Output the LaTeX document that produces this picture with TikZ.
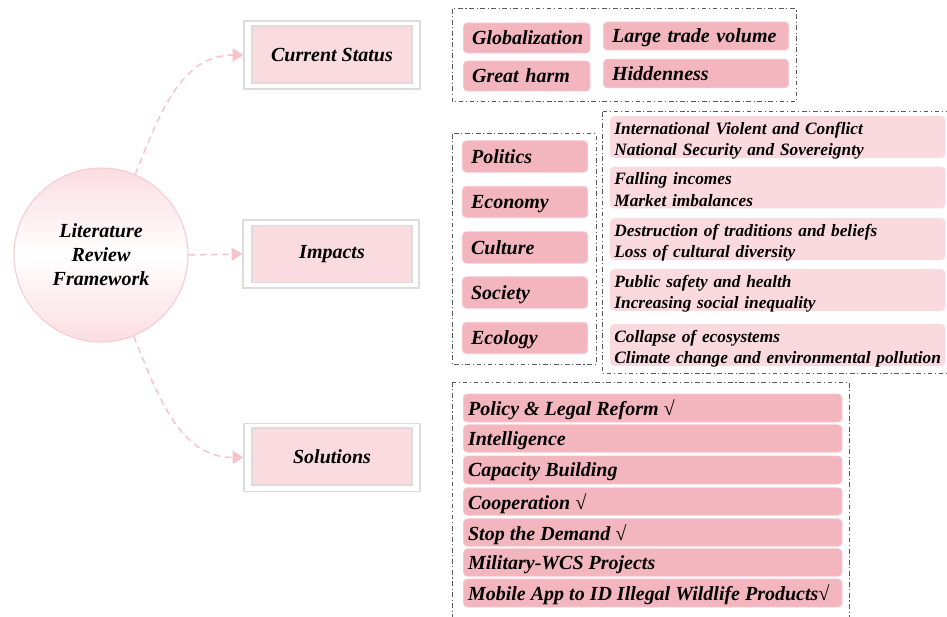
\documentclass[tikz,border=0pt]{standalone}
\usepackage{fontspec}
\setmainfont{Liberation Serif}
\usetikzlibrary{arrows.meta}
\definecolor{itemdark}{HTML}{F3B5BE}
\definecolor{itemdarkb}{HTML}{F7C7CE}
\definecolor{itemlight}{HTML}{FADADF}
\definecolor{innerpink}{HTML}{F9DBE0}
\definecolor{boxgray}{HTML}{DCDCDC}
\definecolor{arrowpink}{HTML}{F7C3CB}
\definecolor{circborder}{HTML}{F6CBD1}
\definecolor{circtop}{HTML}{FBDDE2}
\definecolor{dashgray}{HTML}{5A5A5A}
\tikzset{
  bigfont/.style={font=\bfseries\itshape\fontsize{15}{18}\selectfont},
  smallfont/.style={font=\bfseries\itshape\fontsize{13}{15.8}\selectfont},
  outerbox/.style={draw=boxgray, line width=1.1pt, fill=white, minimum width=132pt, minimum height=51pt, inner sep=0pt},
  innerbox/.style={draw=boxgray, line width=1.1pt, fill=innerpink, minimum width=120pt, minimum height=42.5pt, inner sep=0pt, bigfont},
  ibox/.style={draw=itemdarkb, line width=0.6pt, fill=itemdark, rounded corners=3pt, anchor=west, align=left, inner ysep=0pt, bigfont, text depth=0pt},
  lbox/.style={draw=itemlight, line width=0.6pt, fill=itemlight, rounded corners=3pt, anchor=west, align=left, inner xsep=3pt, inner ysep=0pt, smallfont, text width=245pt, text height=13.5pt, text depth=17.25pt},
  sbox/.style={ibox, inner xsep=3.5pt},
  grp/.style={draw=dashgray, line width=0.75pt, dash pattern=on 3.5pt off 2pt on 0.8pt off 2pt},
  conn/.style={draw=arrowpink, line width=1.1pt, dash pattern=on 5pt off 3.5pt, -{Triangle[length=8pt,width=10pt,fill=arrowpink,sep=0pt]}},
}
\newcommand{\sline}[1]{\makebox[277pt][l]{#1}}
\begin{document}
\begin{tikzpicture}[x=0.75pt,y=-0.75pt]
\useasboundingbox (0,0) rectangle (947,617);

% central circle
\node[circle, draw=circborder, line width=0.8pt, minimum size=130.5pt, top color=circtop, bottom color=circtop, middle color=white, align=center, bigfont] (c) at (101,255) {Literature\\Review\\Framework};

% main boxes
\node[outerbox] (cs) at (332,55) {};
\node[innerbox] (csin) at (332,54.5) {Current Status};
\node[outerbox] (imp) at (331,254) {};
\node[innerbox] (impin) at (332,254) {Impacts};
\node[outerbox] (sol) at (332,457.5) {};
\node[innerbox] (solin) at (332,456.5) {Solutions};

% connectors
\draw[conn] (c.67) to[out=68,in=180] (cs.west);
\draw[conn] (c.east) -- (imp.west);
\draw[conn] (c.-68) to[out=-68,in=180] (sol.west);

% group: current status
\draw[grp] (452,9) rectangle (796,102);
\node[ibox, inner xsep=6.5pt, text width=82pt, minimum height=22.5pt] (g1) at (463,38) {Globalization};
\node[ibox, inner xsep=6.5pt, text width=126pt, minimum height=21pt] (g2) at (603,36) {Large trade volume};
\node[ibox, inner xsep=6.5pt, text width=82pt, minimum height=22.5pt] (g3) at (463,76) {Great harm};
\node[ibox, inner xsep=6.5pt, text width=126pt, minimum height=21.5pt] (g4) at (603,73.5) {Hiddenness};

% group: impacts
\draw[grp] (452,134) rectangle (596,364);
\draw[grp] (602,112) rectangle (980,373);
\node[ibox, inner xsep=6.5pt, text width=81pt, minimum height=23.5pt] (p1) at (462,156.5) {Politics};
\node[ibox, inner xsep=6.5pt, text width=81pt, minimum height=23.5pt] (p2) at (462,202) {Economy};
\node[ibox, inner xsep=6.5pt, text width=81pt, minimum height=23.5pt] (p3) at (462,247.5) {Culture};
\node[ibox, inner xsep=6.5pt, text width=81pt, minimum height=23.5pt] (p4) at (462,292.5) {Society};
\node[ibox, inner xsep=6.5pt, text width=81pt, minimum height=23.5pt] (p5) at (462,338) {Ecology};

\node[lbox] (q1) at (610,137) {International Violent and Conflict\\National Security and Sovereignty};
\node[lbox] (q2) at (610,187.5) {Falling incomes\\Market imbalances};
\node[lbox] (q3) at (610,239) {Destruction of traditions and beliefs\\Loss of cultural diversity};
\node[lbox] (q4) at (610,290) {Public safety and health\\Increasing social inequality};
\node[lbox] (q5) at (610,345) {Collapse of ecosystems\\Climate change and environmental pollution};

% group: solutions
\draw[grp] (452,382) rectangle (849,640);
\node[sbox, minimum height=21pt] (s1) at (463,408) {\sline{Policy \& Legal Reform √}};
\node[sbox, minimum height=20.5pt] (s2) at (463,438.5) {\sline{Intelligence}};
\node[sbox, minimum height=21pt] (s3) at (463,470) {\sline{Capacity Building}};
\node[sbox, minimum height=20.5pt] (s4) at (463,501.5) {\sline{Cooperation √}};
\node[sbox, minimum height=20.5pt] (s5) at (463,532.5) {\sline{Stop the Demand √}};
\node[sbox, minimum height=20.5pt] (s6) at (463,562.5) {\sline{Military-WCS Projects}};
\node[sbox, minimum height=21pt] (s7) at (463,593) {\sline{Mobile App to ID Illegal Wildlife Products√}};
\end{tikzpicture}
\end{document}
